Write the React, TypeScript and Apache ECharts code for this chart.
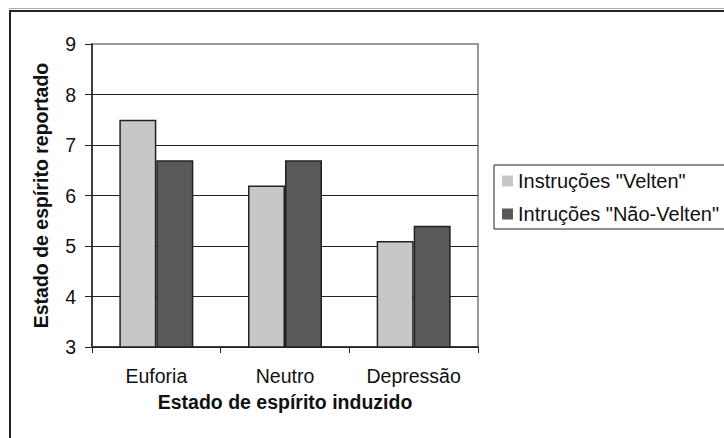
import React, { useEffect, useRef } from "react";
import * as echarts from "echarts";

const categories = ["Euforia", "Neutro", "Depressão"];
const seriesNames = ['Instruções "Velten"', 'Intruções "Não-Velten"'];
const veltenValues = [7.5, 6.2, 5.1];
const naoVeltenValues = [6.7, 6.7, 5.4];
const yMin = 3;
const yMax = 9;
const yInterval = 1;
const xAxisTitle = "Estado de espírito induzido";
const yAxisTitle = "Estado de espírito reportado";

export default function App() {
  const ref = useRef<HTMLDivElement>(null);
  useEffect(() => {
    if (!ref.current) return;
    const chart = echarts.init(ref.current, undefined, { renderer: "svg" });
    const font = "'Liberation Sans', Arial, sans-serif";
    chart.setOption({
      animation: false,
      backgroundColor: "#ffffff",
      textStyle: { fontFamily: font },
      graphic: [
        {
          type: "line",
          shape: { x1: 9, y1: 8.5, x2: 724, y2: 8.5 },
          style: { stroke: "#aaaaaa", lineWidth: 1 },
          silent: true,
        },
        {
          type: "rect",
          shape: { x: 10, y: 11, width: 800, height: 500 },
          style: { fill: "none", stroke: "#222222", lineWidth: 2 },
          silent: true,
        },
      ],
      grid: {
        left: 92,
        top: 44,
        right: 246,
        bottom: 91,
        show: true,
        borderColor: "#999999",
        borderWidth: 2,
        backgroundColor: "transparent",
      },
      legend: {
        orient: "vertical",
        left: 494,
        top: 165,
        padding: [6, 30, 5, 8],
        itemGap: 13,
        itemWidth: 11,
        itemHeight: 11,
        icon: "rect",
        borderColor: "#222222",
        borderWidth: 1,
        itemStyle: { borderWidth: 0 },
        textStyle: { fontSize: 20, color: "#111111", fontFamily: font },
        data: seriesNames,
      },
      xAxis: {
        type: "category",
        data: categories,
        name: xAxisTitle,
        nameLocation: "middle",
        nameGap: 45,
        nameTextStyle: { fontSize: 19.5, fontWeight: "bold", color: "#111111", fontFamily: font },
        axisLine: { lineStyle: { color: "#222222", width: 1.5 } },
        axisTick: { show: true, length: 6, alignWithLabel: false, lineStyle: { color: "#222222" } },
        axisLabel: { fontSize: 19.5, color: "#111111", margin: 19, fontFamily: font },
      },
      yAxis: {
        type: "value",
        min: yMin,
        max: yMax,
        interval: yInterval,
        name: yAxisTitle,
        nameLocation: "middle",
        nameGap: 41,
        nameRotate: 90,
        nameTextStyle: { fontSize: 19.5, fontWeight: "bold", color: "#111111", fontFamily: font },
        axisLine: { show: true, lineStyle: { color: "#222222", width: 1.5 } },
        axisTick: { show: true, length: 7, lineStyle: { color: "#222222" } },
        axisLabel: { fontSize: 19.5, color: "#111111", margin: 16, fontFamily: font },
        splitLine: {
          show: true,
          showMaxLine: false,
          lineStyle: { color: "#222222", width: 1 },
        },
      },
      series: [
        {
          name: seriesNames[0],
          type: "bar",
          data: veltenValues,
          barWidth: 37,
          barGap: "0%",
          itemStyle: { color: "#c6c7c8", borderColor: "#222222", borderWidth: 1.5 },
        },
        {
          name: seriesNames[1],
          type: "bar",
          data: naoVeltenValues,
          barWidth: 37,
          barGap: "0%",
          itemStyle: { color: "#58595b", borderColor: "#222222", borderWidth: 1.5 },
        },
      ],
    });
    return () => chart.dispose();
  }, []);
  return (
    <div
      ref={ref}
      style={{ position: "absolute", left: 0, top: 0, width: 724, height: 438 }}
    />
  );
}
